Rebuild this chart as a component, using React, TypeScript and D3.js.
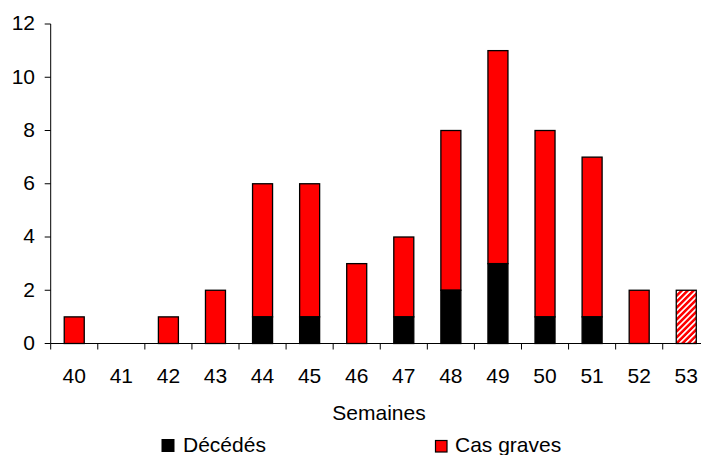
import React from "react";
import * as d3 from "d3";

const weeks = ["40", "41", "42", "43", "44", "45", "46", "47", "48", "49", "50", "51", "52", "53"];
const deces = [0, 0, 0, 0, 1, 1, 0, 1, 2, 3, 1, 1, 0, 0];
const casGraves = [1, 0, 1, 2, 5, 5, 3, 3, 6, 8, 7, 6, 2, 2];
const hatched = [false, false, false, false, false, false, false, false, false, false, false, false, false, true];
const yTicks = [0, 2, 4, 6, 8, 10, 12];

const W = 701;
const H = 455;
const FONT = "'Liberation Sans', Arial, sans-serif";
const FS = 21;

export default function App() {
  const x = d3
    .scaleBand<string>()
    .domain(weeks)
    .range([50.7, 709.8])
    .paddingInner(0.575)
    .paddingOuter(0.2875);
  const y = d3.scaleLinear().domain([0, 12]).range([343.5, 24]);
  const step = x.step();
  const x0 = 50.7;

  return (
    <svg
      width={W}
      height={H}
      style={{ position: "absolute", left: 0, top: 0, background: "#fff" }}
      fontFamily={FONT}
    >
      <defs>
        <pattern id="hatch" patternUnits="userSpaceOnUse" width="4.2" height="4.2" patternTransform="rotate(45)">
          <rect x="0" y="0" width="4.2" height="4.2" fill="#ff0000" />
          <rect x="0" y="0" width="1.7" height="4.2" fill="#ffffff" />
        </pattern>
      </defs>

      {/* bars */}
      {weeks.map((w, i) => {
        const bx = x(w)!;
        const bw = x.bandwidth();
        const d = deces[i];
        const g = casGraves[i];
        return (
          <g key={w}>
            {g > 0 && (
              <rect
                x={bx}
                y={y(d + g)}
                width={bw}
                height={y(d) - y(d + g)}
                fill={hatched[i] ? "url(#hatch)" : "#ff0000"}
                stroke="#000"
                strokeWidth={1.3}
              />
            )}
            {d > 0 && (
              <rect
                x={bx}
                y={y(d)}
                width={bw}
                height={y(0) - y(d)}
                fill="#000"
                stroke="#000"
                strokeWidth={1.3}
              />
            )}
          </g>
        );
      })}

      {/* y axis */}
      <line x1={x0} x2={x0} y1={y(12)} y2={y(0)} stroke="#000" strokeWidth={1} />
      {yTicks.map((t) => (
        <g key={t}>
          <line x1={x0 - 6} x2={x0} y1={y(t)} y2={y(t)} stroke="#000" strokeWidth={1} />
          <text x={35} y={y(t)} dy="0.3em" textAnchor="end" fontSize={FS} fill="#000">
            {t}
          </text>
        </g>
      ))}

      {/* x axis */}
      <line x1={x0} x2={W} y1={y(0)} y2={y(0)} stroke="#000" strokeWidth={1} />
      {weeks.map((w, i) => (
        <line
          key={"t" + w}
          x1={x0 + step * i}
          x2={x0 + step * i}
          y1={y(0)}
          y2={y(0) + 6}
          stroke="#000"
          strokeWidth={1}
        />
      ))}
      {weeks.map((w) => (
        <text
          key={"l" + w}
          x={x(w)! + x.bandwidth() / 2}
          y={382.5}
          textAnchor="middle"
          fontSize={FS}
          fill="#000"
        >
          {w}
        </text>
      ))}
      <text x={379} y={419.5} textAnchor="middle" fontSize={FS} fill="#000">
        Semaines
      </text>

      {/* legend */}
      <rect x={162} y={439.5} width={12} height={12} fill="#000" stroke="#000" strokeWidth={1} />
      <text x={183} y={452} fontSize={FS} fill="#000">
        Décédés
      </text>
      <rect x={435.5} y={440.5} width={11.5} height={11.5} fill="#ff0000" stroke="#000" strokeWidth={1.2} />
      <text x={455} y={452} fontSize={FS} fill="#000">
        Cas graves
      </text>
    </svg>
  );
}
